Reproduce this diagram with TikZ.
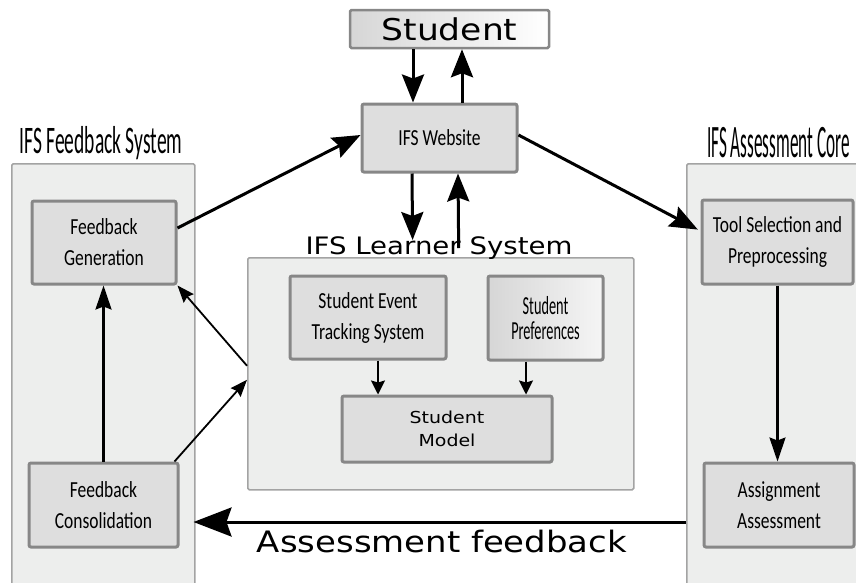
\documentclass[tikz,border=0pt]{standalone}
\usepackage{fontspec}
\setmainfont{Carlito}
\newfontfamily\boxfont[FakeStretch=0.76]{Carlito}
\newfontfamily\condfont[FakeStretch=0.55]{Carlito}
\newfontfamily\titlefonta[FakeStretch=0.50]{Carlito}
\newfontfamily\titlefontb[FakeStretch=0.37]{Carlito}
\newfontfamily\dvfont[FakeStretch=1.15]{DejaVu Sans}
\usetikzlibrary{arrows.meta,calc}
\definecolor{outerfill}{HTML}{EDEEED}
\definecolor{outerdraw}{HTML}{A3A3A3}
\definecolor{innerfill}{HTML}{DEDEDE}
\definecolor{innerdraw}{HTML}{878787}
\definecolor{shadegray}{HTML}{D6D6D6}
\begin{document}
\begin{tikzpicture}[x=1pt,y=-1pt,
  outerbox/.style={draw=outerdraw, fill=outerfill, line width=1.5pt, rounded corners=1.5pt, inner sep=0pt, anchor=north west},
  innerbox/.style={draw=innerdraw, fill=innerfill, line width=3pt, rounded corners=2pt, align=center, inner sep=0pt,
     font=\boxfont\fontsize{23}{31}\selectfont},
  titletext/.style={anchor=base, inner sep=0pt},
  bigarrow/.style={line width=3pt, -{Stealth[length=28pt,width=22pt,inset=4pt]}},
  hugearrow/.style={line width=3pt, -{Stealth[length=38pt,width=29pt,inset=5pt]}},
  midarrow/.style={line width=2.3pt, -{Stealth[length=24pt,width=16pt,inset=3pt]}},
  thinarrow/.style={line width=1.8pt, -{Stealth[length=17pt,width=13pt,inset=2pt]}},
  smallarrow/.style={line width=2pt, -{Stealth[length=14pt,width=14pt,inset=2pt]}},
]
\useasboundingbox (0,0) rectangle (856,582);
\clip (0,0) rectangle (856,582);

% outer containers
\node[outerbox, minimum width=183pt, minimum height=440pt] (fs) at (11,163) {};
\node[outerbox, minimum width=200pt, minimum height=440pt] (ac) at (686,163) {};
\node[outerbox, minimum width=386pt, minimum height=232pt] (ls) at (247,257) {};

% titles
\node[titletext, font=\titlefonta\fontsize{39}{42}\selectfont] (fstitle) at (101,153) {IFS Feedback System};
\node[titletext, font=\titlefontb\fontsize{46.5}{50}\selectfont] (actitle) at (778.5,157) {IFS Assessment Core};
\node[titletext, font=\dvfont\fontsize{24}{28}\selectfont] (lstitle) at (439,254) {IFS Learner System};

% top boxes
\node[draw=innerdraw, line width=2.5pt, rounded corners=1.5pt, left color=shadegray, right color=white,
      minimum width=199pt, minimum height=38pt, inner sep=0pt, font=\dvfont\fontsize{30}{34}\selectfont]
      (student) at (449.5,29) {Student};
\node[innerbox, minimum width=155pt, minimum height=68pt] (web) at (439.5,138) {IFS Website};

% feedback system
\node[innerbox, minimum width=144pt, minimum height=83pt] (fg) at (104,242.5) {Feedback\\Generation};
\node[innerbox, minimum width=149pt, minimum height=84pt] (fc) at (103.5,505) {Feedback\\Consolidation};

% assessment core
\node[innerbox, minimum width=151pt, minimum height=84pt] (ts) at (777.5,242) {Tool Selection and\\Preprocessing};
\node[innerbox, minimum width=150pt, minimum height=84pt] (aa) at (779,505) {Assignment\\Assessment};

% learner system
\node[innerbox, minimum width=156pt, minimum height=83pt] (sets) at (368,317.5) {Student Event\\Tracking System};
\node[innerbox, left color=shadegray, right color=white!92!gray, minimum width=115pt, minimum height=84pt,
      font=\condfont\fontsize{26}{25}\selectfont] (sp) at (545.5,318) {Student\\Preferences};
\node[innerbox, minimum width=210pt, minimum height=66pt, font=\dvfont\fontsize{16.5}{23}\selectfont] (sm) at (447,429) {Student\\Model};

% connectors
\draw[bigarrow] ([xshift=-36.5pt]student.south) -- ([xshift=-26.5pt]web.north);
\draw[bigarrow] ([xshift=22.5pt]web.north) -- ([xshift=12.5pt]student.south);
\draw[bigarrow, shorten >=17pt] ([xshift=-27.5pt]web.south) -- ([xshift=-28pt]ls.north);
\draw[bigarrow, shorten <=9pt] ([xshift=18pt]ls.north) -- ([xshift=18.5pt]web.south);
\draw[bigarrow] ([yshift=14.5pt]fg.east) -- ([yshift=3pt]web.west);
\draw[bigarrow, shorten >=3pt] ([yshift=3pt]web.east) -- ([yshift=11pt]ts.west);
\draw[midarrow] (fc.north) -- (fc.north |- fg.south);
\draw[midarrow] (ts.south) -- (ts.south |- aa.north);
\draw[thinarrow] ([yshift=8pt]ls.west) -- (fg.south east);
\draw[thinarrow] ([xshift=-5pt]fc.north east) -- ([yshift=-6pt]ls.west);
\draw[smallarrow] ([xshift=10pt]sets.south) -- ([xshift=10pt]sets.south |- sm.north);
\draw[smallarrow] ([xshift=-19.5pt]sp.south) -- ([xshift=-19.5pt]sp.south |- sm.north);
\coordinate (afy) at ([yshift=-17pt]aa.west);
\draw[hugearrow, shorten >=-2pt] (afy -| ac.west) -- (afy -| fs.east);
\node[anchor=base, inner sep=0pt, font=\dvfont\fontsize{29.5}{34}\selectfont] (aflabel) at (442,552) {Assessment feedback};
\end{tikzpicture}
\end{document}
